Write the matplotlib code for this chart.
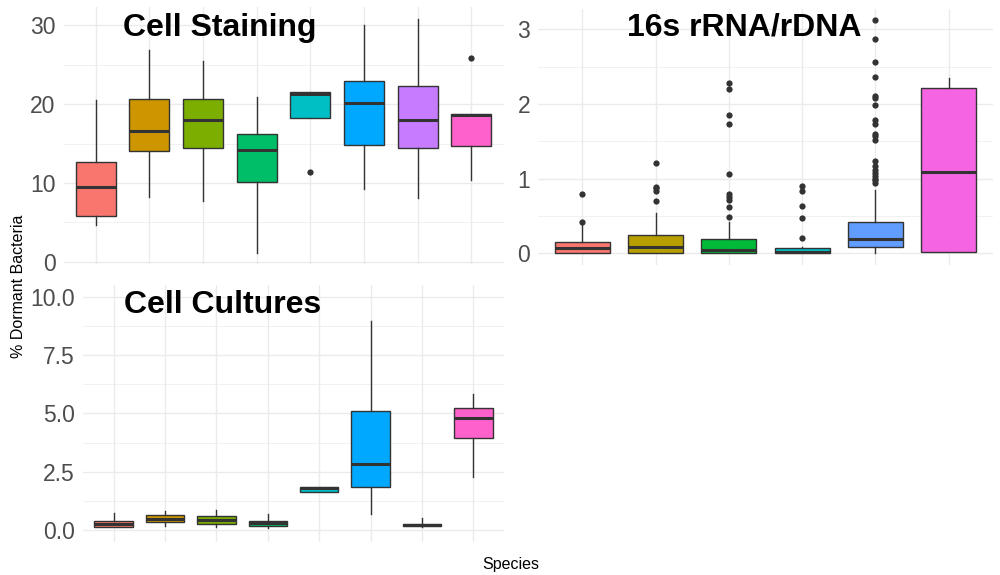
import numpy as np
import matplotlib
matplotlib.use('Agg')
import matplotlib.pyplot as plt
from matplotlib.ticker import MultipleLocator

plt.rcParams['font.family'] = ['Liberation Sans', 'DejaVu Sans']

# ggplot hue palettes
pal8 = ['#F8766D', '#CD9600', '#7CAE00', '#00BE67', '#00BFC4', '#00A9FF', '#C77CFF', '#FF61CC']
pal6 = ['#F8766D', '#B79F00', '#00BA38', '#00BFC4', '#619CFF', '#F564E3']

# Cell Staining: whisker low, Q1, median, Q3, whisker high, outliers
stain_lo = [4.7, 8.25, 7.7, 1.14, 18.3, 9.26, 8.1, 10.4]
stain_q1 = [5.76, 14.1, 14.4, 10.07, 18.3, 14.8, 14.4, 14.7]
stain_med = [9.5, 16.6, 18.0, 14.2, 21.3, 20.1, 18.0, 18.6]
stain_q3 = [12.6, 20.7, 20.7, 16.25, 21.5, 22.9, 22.3, 18.8]
stain_hi = [20.5, 26.9, 25.5, 20.9, 21.5, 30.0, 30.8, 18.8]
stain_out = [[], [], [], [], [11.4], [], [], [25.8]]

# 16s rRNA/rDNA
rna_lo = [0.0, 0.0, 0.0, 0.0, 0.01, 0.013]
rna_q1 = [0.0, 0.0, 0.0, 0.0, 0.08, 0.013]
rna_med = [0.076, 0.089, 0.05, 0.013, 0.196, 1.09]
rna_q3 = [0.147, 0.24, 0.19, 0.067, 0.415, 2.22]
rna_hi = [0.38, 0.544, 0.42, 0.09, 0.85, 2.35]
rna_out = [
    [0.415, 0.79],
    [0.70, 0.84, 0.87, 0.89, 1.21],
    [0.48, 0.62, 0.72, 0.76, 0.80, 1.06, 1.73, 1.85, 2.20, 2.28],
    [0.20, 0.47, 0.63, 0.84, 0.90],
    [0.946, 0.98, 1.0, 1.03, 1.07, 1.12, 1.17, 1.23, 1.52, 1.57, 1.60,
     1.73, 1.79, 1.98, 2.08, 2.11, 2.36, 2.56, 2.87, 3.12],
    [],
]

# Cell Cultures
cult_lo = [0.11, 0.19, 0.14, 0.10, 1.61, 0.67, 0.11, 2.29]
cult_q1 = [0.11, 0.33, 0.26, 0.17, 1.61, 1.84, 0.19, 3.93]
cult_med = [0.26, 0.46, 0.43, 0.29, 1.79, 2.83, 0.22, 4.81]
cult_q3 = [0.37, 0.63, 0.59, 0.37, 1.83, 5.09, 0.26, 5.21]
cult_hi = [0.73, 0.80, 0.86, 0.69, 1.83, 8.96, 0.50, 5.84]
cult_out = [[], [], [], [], [], [], [], []]

W, H = 1000, 575
fig = plt.figure(figsize=(10, 5.75), dpi=100)


def add_panel(left, top, right, bottom):
    return fig.add_axes([left / W, 1 - bottom / H, (right - left) / W, (bottom - top) / H])


def draw(ax, lo, q1, med, q3, hi, out, colors, ylim, major, minor):
    stats = []
    for i in range(len(med)):
        stats.append(dict(med=med[i], q1=q1[i], q3=q3[i], whislo=lo[i], whishi=hi[i], fliers=out[i]))
    n = len(stats)
    pos = np.arange(1, n + 1)
    bp = ax.bxp(stats, positions=pos, widths=0.75, patch_artist=True, showcaps=False,
                boxprops=dict(edgecolor='#333333', linewidth=1.0),
                whiskerprops=dict(color='#333333', linewidth=1.0),
                medianprops=dict(color='#333333', linewidth=2.2, solid_capstyle='butt'),
                flierprops=dict(marker='o', markerfacecolor='#333333', markeredgecolor='none',
                                markersize=4.5))
    for patch, c in zip(bp['boxes'], colors):
        patch.set_facecolor(c)
    for b in bp['boxes'] + bp['medians'] + bp['whiskers'] + bp['fliers']:
        b.set_zorder(3)
    ax.set_xlim(0.4, n + 0.6)
    ax.set_ylim(*ylim)
    ax.set_xticks(pos)
    ax.set_xticklabels([])
    ax.yaxis.set_major_locator(MultipleLocator(major))
    ax.yaxis.set_minor_locator(MultipleLocator(minor))
    ax.grid(which='major', color='#EBEBEB', linewidth=1.0, zorder=0)
    ax.grid(which='minor', axis='y', color='#EBEBEB', linewidth=0.5, zorder=0)
    ax.set_axisbelow(True)
    ax.tick_params(which='both', length=0, pad=5.8, labelsize=16.5, labelcolor='#4D4D4D')
    for s in ax.spines.values():
        s.set_visible(False)


ax1 = add_panel(63.5, 7.2, 503.5, 264.4)
draw(ax1, stain_lo, stain_q1, stain_med, stain_q3, stain_hi, stain_out, pal8,
     (-0.34, 32.3), 10, 5)

ax2 = add_panel(538.3, 8.7, 992.7, 264.9)
draw(ax2, rna_lo, rna_q1, rna_med, rna_q3, rna_hi, rna_out, pal6,
     (-0.156, 3.276), 1, 0.5)

ax3 = add_panel(82.9, 285, 504.1, 541.7)
draw(ax3, cult_lo, cult_q1, cult_med, cult_q3, cult_hi, cult_out, pal8,
     (-0.5, 10.5), 2.5, 1.25)
ax3.yaxis.set_major_formatter(matplotlib.ticker.FormatStrFormatter('%.1f'))

title_kw = dict(fontsize=23, fontweight='bold', color='black', ha='center', va='baseline')
fig.text(220 / W, 1 - 36 / H, 'Cell Staining', **title_kw)
fig.text(744 / W, 1 - 36 / H, '16s rRNA/rDNA', **title_kw)
fig.text(223 / W, 1 - 312.7 / H, 'Cell Cultures', **title_kw)

fig.text(19 / W, 1 - 286 / H, '% Dormant Bacteria', rotation=90, fontsize=11.5,
         ha='center', va='center')
fig.text(511 / W, 1 - 565 / H, 'Species', fontsize=11.5, ha='center', va='center')

fig.savefig('out.png', dpi=100, facecolor='white')
